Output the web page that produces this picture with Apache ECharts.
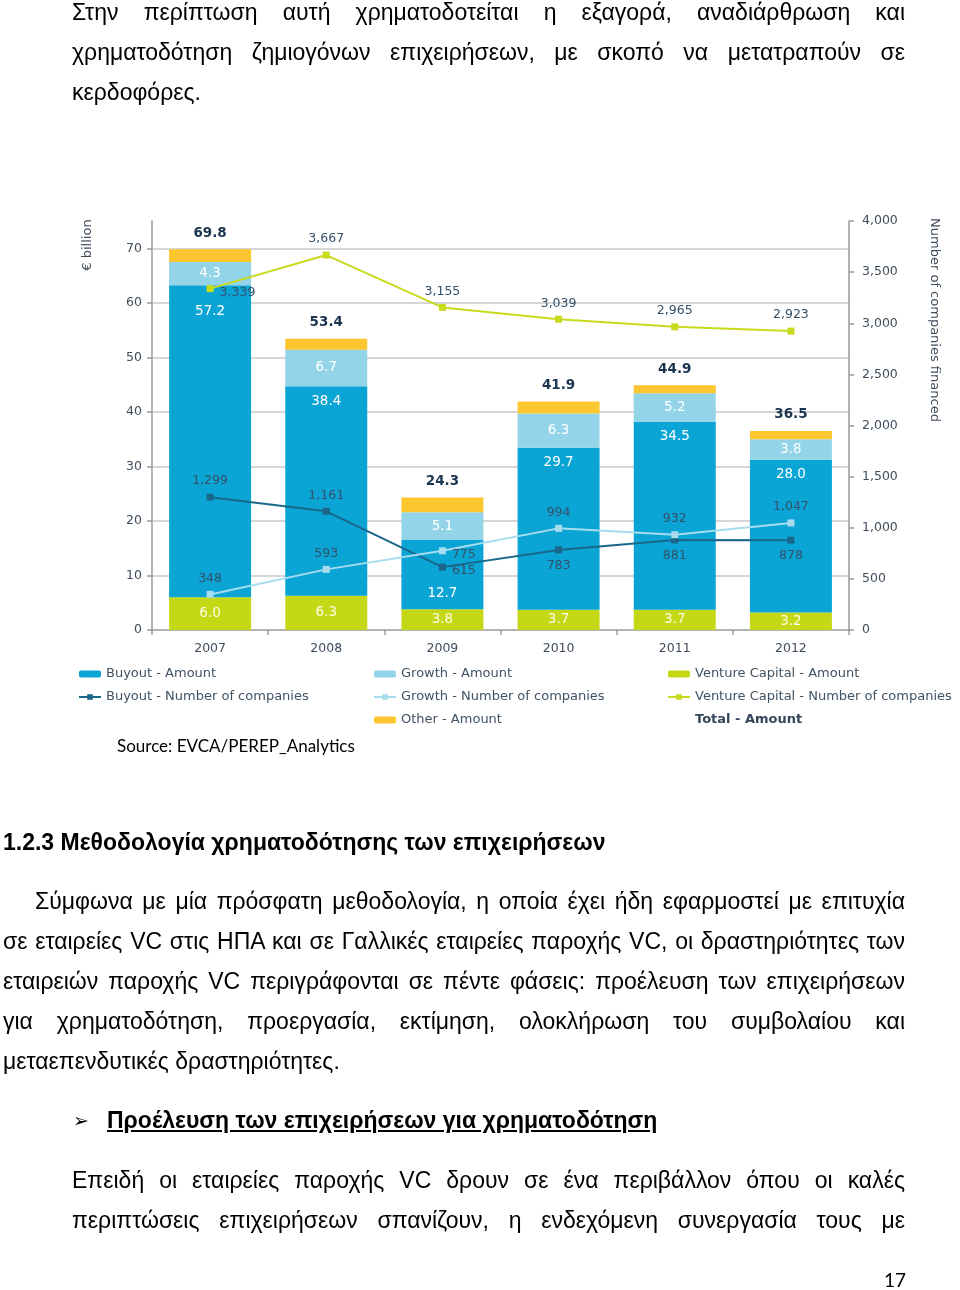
<!DOCTYPE html>
<html>
<head>
<meta charset="utf-8">
<script src="https://cdn.jsdelivr.net/npm/echarts@6/dist/echarts.min.js"></script>
<style>
  html, body { margin:0; padding:0; background:#fff; }
  #page { position:relative; width:960px; height:1290px; overflow:hidden; background:#fff; }
  #chart { position:absolute; left:0; top:0; width:960px; height:1290px; }
  .t { position:absolute; font-family:"Liberation Sans", Arial, sans-serif; font-size:23px; line-height:40px; color:#000; white-space:normal; }
  .j { text-align:justify; text-align-last:justify; }
  .b { font-weight:bold; }
</style>
</head>
<body>
<div id="page">
  <div id="chart"></div>
  <div class="t j" style="left:72px; top:-8px; width:833px;">Στην περίπτωση αυτή χρηματοδοτείται η εξαγορά, αναδιάρθρωση και</div>
  <div class="t j" style="left:72px; top:32px; width:833px;">χρηματοδότηση ζημιογόνων επιχειρήσεων, με σκοπό να μετατραπούν σε</div>
  <div class="t" style="left:72px; top:72px;">κερδοφόρες.</div>

  <div class="t" style="left:117px; top:736px; line-height:20px; font-family:Lato, 'Open Sans', sans-serif; font-size:17px;">Source: EVCA/PEREP_Analytics</div>

  <div class="t b" style="left:3px; top:822px;">1.2.3 Μεθοδολογία χρηματοδότησης των επιχειρήσεων</div>

  <div class="t j" style="left:35px; top:881px; width:870px;">Σύμφωνα με μία πρόσφατη μεθοδολογία, η οποία έχει ήδη εφαρμοστεί με επιτυχία</div>
  <div class="t j" style="left:3px; top:921px; width:902px;">σε εταιρείες VC στις ΗΠΑ και σε Γαλλικές εταιρείες παροχής VC, οι δραστηριότητες των</div>
  <div class="t j" style="left:3px; top:961px; width:902px;">εταιρειών παροχής VC περιγράφονται σε πέντε φάσεις: προέλευση των επιχειρήσεων</div>
  <div class="t j" style="left:3px; top:1001px; width:902px;">για χρηματοδότηση, προεργασία, εκτίμηση, ολοκλήρωση του συμβολαίου και</div>
  <div class="t" style="left:3px; top:1041px;">μεταεπενδυτικές δραστηριότητες.</div>

  <div class="t" style="left:73px; top:1100px; font-family:'DejaVu Sans', sans-serif; font-size:19px;">➢</div>
  <div class="t b" style="left:107px; top:1100px; text-decoration:underline;">Προέλευση των επιχειρήσεων για χρηματοδότηση</div>

  <div class="t j" style="left:72px; top:1160px; width:833px;">Επειδή οι εταιρείες παροχής VC δρουν σε ένα περιβάλλον όπου οι καλές</div>
  <div class="t j" style="left:72px; top:1200px; width:833px;">περιπτώσεις επιχειρήσεων σπανίζουν, η ενδεχόμενη συνεργασία τους με</div>

  <div class="t" style="left:884px; top:1268px; line-height:24px; font-family:Lato, 'Open Sans', sans-serif; font-size:19px;">17</div>
</div>
<script>
const years = ['2007', '2008', '2009', '2010', '2011', '2012'];
const vcAmount = [6.0, 6.3, 3.8, 3.7, 3.7, 3.2];
const buyoutAmount = [57.2, 38.4, 12.7, 29.7, 34.5, 28.0];
const growthAmount = [4.3, 6.7, 5.1, 6.3, 5.2, 3.8];
const otherAmount = [2.3, 2.0, 2.7, 2.2, 1.5, 1.5];
const totalAmount = [69.8, 53.4, 24.3, 41.9, 44.9, 36.5];
const buyoutCount = [1299, 1161, 615, 783, 881, 878];
const growthCount = [348, 593, 775, 994, 932, 1047];
const vcCount = [3339, 3667, 3155, 3039, 2965, 2923];

// label placement (styling only)
const buyoutCountPos = ['top', 'top', 'right', 'bottom', 'bottom', 'bottom'];
const growthCountPos = ['top', 'top', 'right', 'top', 'top', 'top'];
const vcCountPos = ['right', 'top', 'top', 'top', 'top', 'top'];
const buyoutLabelPos = ['insideTop', 'insideTop', 'insideBottom', 'insideTop', 'insideTop', 'insideTop'];
const buyoutLabelDist = [19, 8, 9, 8, 8, 8];

const FONT = 'DejaVu Sans';
const C = {
  buyout: '#0aa5d5', growth: '#93d4e9', vc: '#c5d816', other: '#fcc62e',
  buyoutLine: '#19678a', growthLine: '#a6dcee', vcLine: '#c8da1c',
  label: '#34506b', axis: '#3f4d5c', total: '#1b3450'
};
const fmtInt = v => Number(v).toLocaleString('en-US');
const fmt1 = v => Number(v).toFixed(1);

const chart = echarts.init(document.getElementById('chart'), null, { renderer: 'canvas' });

const legendBase = {
  orient: 'vertical', itemWidth: 22, itemHeight: 7, itemGap: 9, padding: 0,
  selectedMode: false,
  textStyle: { fontFamily: FONT, fontSize: 13, color: '#415263', lineHeight: 14 }
};

const barLabel = (color) => ({
  show: true, color: color, fontFamily: FONT, fontSize: 13.5,
  formatter: p => fmt1(p.value)
});

const countLabel = {
  show: true, color: C.label, fontFamily: FONT, fontSize: 12.5, distance: 6,
  formatter: p => fmtInt(p.value)
};

function withPos(values, pos) {
  return values.map((v, i) => ({
    value: v,
    label: pos[i] === 'right' ? { position: pos[i], offset: [0, 4] } : { position: pos[i] }
  }));
}

const option = {
  animation: false,
  textStyle: { fontFamily: FONT },
  grid: { left: 152, right: 111, top: 221, bottom: 660, containLabel: false },
  legend: [
    Object.assign({}, legendBase, { left: 78, top: 667,
      data: ['Buyout - Amount', 'Buyout - Number of companies'] }),
    Object.assign({}, legendBase, { left: 373, top: 667,
      data: ['Growth - Amount', 'Growth - Number of companies', 'Other - Amount'] }),
    Object.assign({}, legendBase, { left: 667, top: 667,
      data: ['Venture Capital - Amount', 'Venture Capital - Number of companies',
        { name: 'Total - Amount', icon: 'none', textStyle: { fontWeight: 'bold', color: '#33465b' } }] })
  ],
  xAxis: {
    type: 'category', data: years,
    axisLine: { lineStyle: { color: '#9a9a9a', width: 1.5 } },
    axisTick: { show: true, length: 5, lineStyle: { color: '#9a9a9a', width: 1.5 } },
    axisLabel: { color: C.axis, fontFamily: FONT, fontSize: 12.5, margin: 12 }
  },
  yAxis: [
    {
      type: 'value', min: 0, max: 75, interval: 10,
      axisLine: { show: true, lineStyle: { color: '#9a9a9a', width: 1.5 } },
      axisTick: { show: true, length: 5, lineStyle: { color: '#9a9a9a', width: 1.5 } },
      axisLabel: { color: C.axis, fontFamily: FONT, fontSize: 12.5, margin: 10, showMaxLabel: false },
      splitLine: { show: true, showMinLine: false, showMaxLine: false, lineStyle: { color: '#c9c9c9', width: 1.5 } }
    },
    {
      type: 'value', min: 0, max: 4000, interval: 500, position: 'right',
      axisLine: { show: true, lineStyle: { color: '#9a9a9a', width: 1.5 } },
      axisTick: { show: true, length: 5, lineStyle: { color: '#9a9a9a', width: 1.5 } },
      axisLabel: { color: C.axis, fontFamily: FONT, fontSize: 12.5, margin: 13, formatter: v => fmtInt(v) },
      splitLine: { show: false }
    }
  ],
  graphic: [
    { type: 'text', x: 88, y: 245, rotation: Math.PI / 2,
      style: { text: '€ billion', fill: C.axis, font: '13px "DejaVu Sans"', align: 'center', verticalAlign: 'middle' } },
    { type: 'text', x: 934, y: 320, rotation: -Math.PI / 2,
      style: { text: 'Number of companies financed', fill: C.axis, font: '13px "DejaVu Sans"', align: 'center', verticalAlign: 'middle' } }
  ],
  series: [
    { name: 'Venture Capital - Amount', type: 'bar', stack: 'amt', barWidth: 82, barGap: '-100%',
      itemStyle: { color: C.vc }, data: vcAmount,
      label: Object.assign(barLabel('#fbfde6'), { position: 'inside' }) },
    { name: 'Buyout - Amount', type: 'bar', stack: 'amt', barWidth: 82, barGap: '-100%',
      itemStyle: { color: C.buyout },
      data: buyoutAmount.map((v, i) => ({ value: v, label: { position: buyoutLabelPos[i], distance: buyoutLabelDist[i] } })),
      label: barLabel('#ffffff') },
    { name: 'Growth - Amount', type: 'bar', stack: 'amt', barWidth: 82, barGap: '-100%',
      itemStyle: { color: C.growth }, data: growthAmount,
      label: Object.assign(barLabel('#ffffff'), { position: 'inside' }) },
    { name: 'Other - Amount', type: 'bar', stack: 'amt', barWidth: 82, barGap: '-100%',
      itemStyle: { color: C.other }, data: otherAmount },
    { name: 'Total - Amount', type: 'bar', barWidth: 82, barGap: '-100%',
      itemStyle: { color: 'rgba(0,0,0,0)' }, data: totalAmount, silent: true,
      label: { show: true, position: 'top', distance: 9, color: C.total, fontFamily: FONT,
        fontSize: 13.5, fontWeight: 'bold', formatter: p => fmt1(p.value) } },
    { name: 'Buyout - Number of companies', type: 'line', yAxisIndex: 1,
      symbol: 'rect', symbolSize: 7, lineStyle: { color: C.buyoutLine, width: 2 },
      itemStyle: { color: C.buyoutLine }, data: withPos(buyoutCount, buyoutCountPos), label: countLabel, z: 5 },
    { name: 'Growth - Number of companies', type: 'line', yAxisIndex: 1,
      symbol: 'rect', symbolSize: 7, lineStyle: { color: C.growthLine, width: 2 },
      itemStyle: { color: C.growthLine }, data: withPos(growthCount, growthCountPos), label: countLabel, z: 5 },
    { name: 'Venture Capital - Number of companies', type: 'line', yAxisIndex: 1,
      symbol: 'rect', symbolSize: 7, lineStyle: { color: C.vcLine, width: 2 },
      itemStyle: { color: C.vcLine }, data: withPos(vcCount, vcCountPos), label: countLabel, z: 5 }
  ]
};
chart.setOption(option);
</script>
</body>
</html>
